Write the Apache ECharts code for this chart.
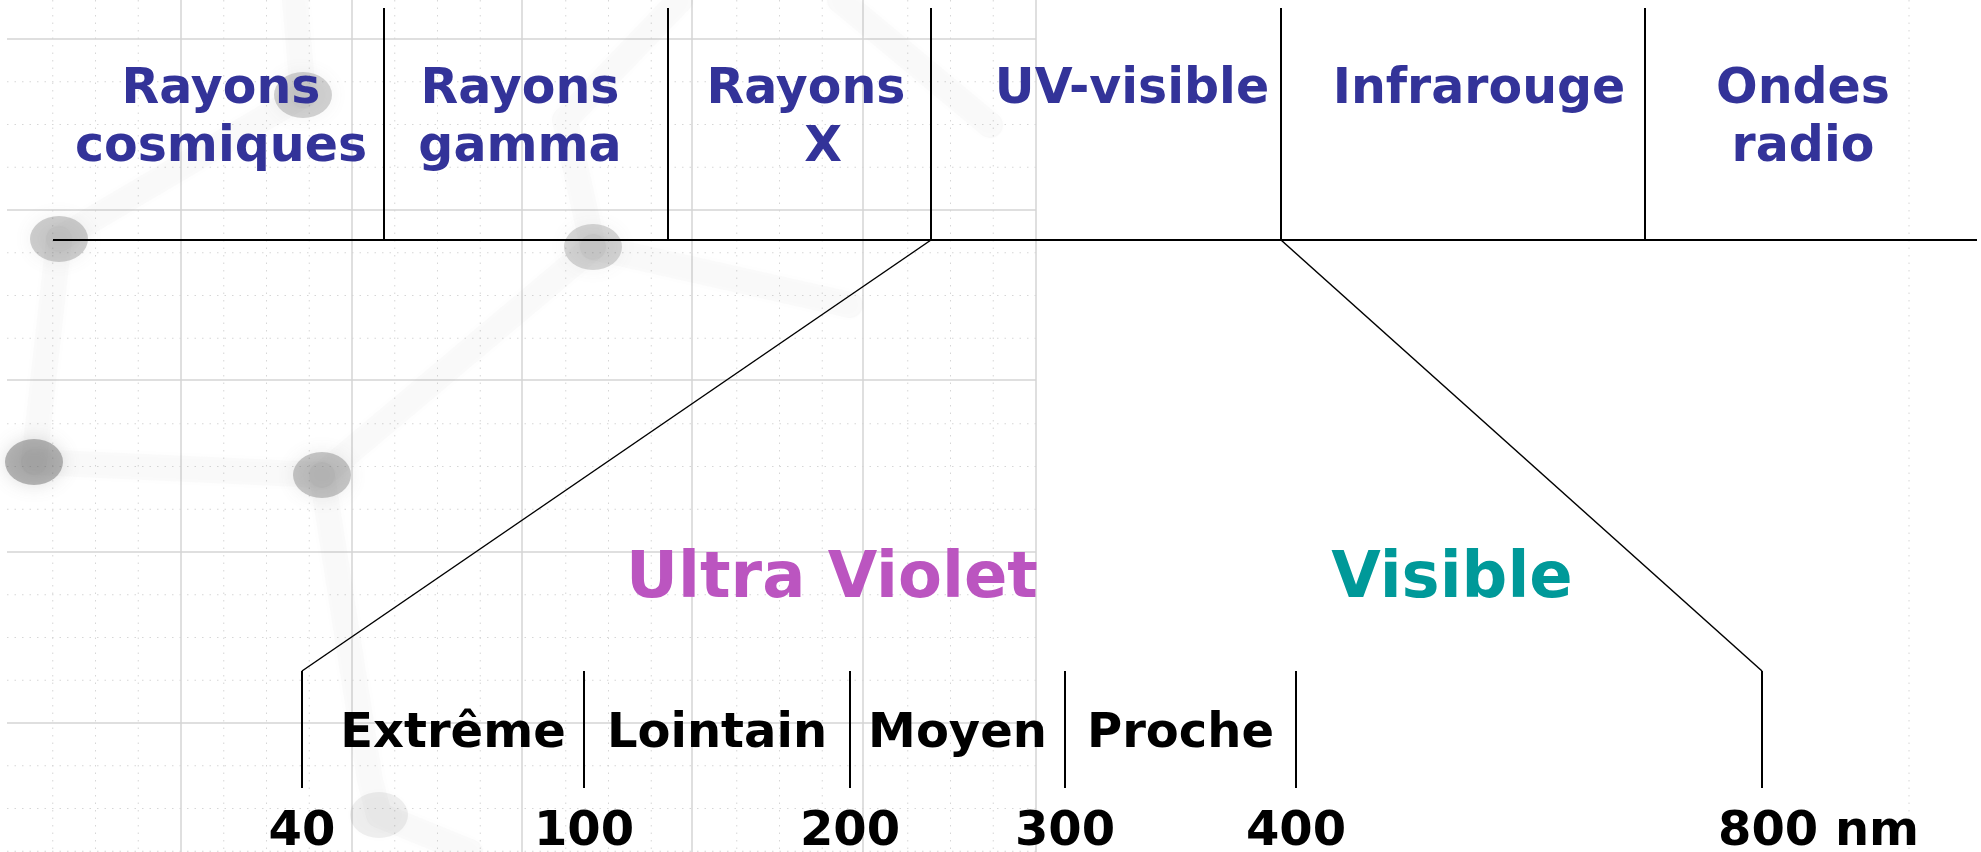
<!DOCTYPE html>
<html>
<head>
<meta charset="utf-8">
<script src="https://cdn.jsdelivr.net/npm/echarts@6/dist/echarts.min.js"></script>
<style>html,body{margin:0;padding:0;background:#fff}#c{width:1981px;height:852px}</style>
</head>
<body>
<div id="c"></div>
<script>
// ---- Spectrum bands (top row), schematic positions on a 0..1981 scale ----
const bandNames = ['Rayons\ncosmiques', 'Rayons\ngamma', 'Rayons\n  X', 'UV-visible', 'Infrarouge', 'Ondes\nradio'];
const bandLabelX = [221, 520, 806, 1132, 1479, 1803];
const bandEdges = [384, 668, 931, 1281, 1645];
const bandStart = 53, bandEnd = 1977;

// ---- Zoom into UV / visible (bottom row) ----
const wavelengths = [40, 100, 200, 300, 400, 800];
const wavelengthX = [302, 584, 850, 1065, 1296, 1762];
const tickLabels = ['40', '100', '200', '300', '400', '800 nm'];
const uvNames = ['Extrême', 'Lointain', 'Moyen', 'Proche'];
const regionNames = ['Ultra Violet', 'Visible'];
const regionX = [832, 1452];
const regionColors = ['#bb55c0', '#009999'];

// ---- faint background decoration ----
const gridMajorX = [181, 352, 522, 692, 863, 1036];
const gridMajorY = [39, 210, 380, 552, 723];
const moleculeAtoms = [[59, 239], [34, 462], [322, 475], [303, 95], [593, 247], [379, 815]];
const atomStrength = [0.30, 0.45, 0.35, 0.28, 0.25, 0.10];
const moleculeBonds = [
  [[59, 239], [34, 462]], [[34, 462], [322, 475]], [[322, 475], [593, 247]],
  [[59, 239], [303, 95]], [[303, 95], [295, 0]], [[593, 247], [565, 120], [680, 0]],
  [[593, 247], [850, 305]], [[322, 475], [370, 780], [379, 815], [470, 852]],
  [[840, 0], [990, 125]]
];

const yTop = 8, yAxisLine = 240, yFan = 671, yScaleBottom = 788;

// build line segments
const frame = [];
frame.push({coords: [[bandStart, yAxisLine], [bandEnd, yAxisLine]]});
bandEdges.forEach(x => frame.push({coords: [[x, yTop], [x, yAxisLine]]}));
wavelengthX.forEach(x => frame.push({coords: [[x, yFan], [x, yScaleBottom]]}));
const fan = [
  {coords: [[bandEdges[2], yAxisLine], [wavelengthX[0], yFan]]},
  {coords: [[bandEdges[3], yAxisLine], [wavelengthX[5], yFan]]}
];

const major = [], minor = [];
gridMajorX.forEach(x => major.push({coords: [[x, 0], [x, 852]]}));
gridMajorY.forEach(y => major.push({coords: [[7, y], [1036, y]]}));
const step = (gridMajorX[1] - gridMajorX[0]) / 4;
for (let x = gridMajorX[0] - 3 * step; x < 1040; x += step) {
  if (!gridMajorX.some(m => Math.abs(m - x) < 5)) minor.push({coords: [[x, 0], [x, 852]]});
}
const stepY = (gridMajorY[1] - gridMajorY[0]) / 4;
for (let y = gridMajorY[0]; y < 852; y += stepY) {
  if (!gridMajorY.some(m => Math.abs(m - y) < 5)) minor.push({coords: [[7, y], [1036, y]]});
}
minor.push({coords: [[1909, 0], [1909, 852]]});

const topLabels = bandNames.map((n, i) => [bandLabelX[i], 61, n]);
const uvLabels = uvNames.map((n, i) => [(wavelengthX[i] + wavelengthX[i + 1]) / 2 + (i === 0 ? 10 : 0), 735, n]);
const tickData = tickLabels.map((t, i) => ({value: [wavelengthX[i], 833, t],
  label: i === 5 ? {align: 'left', offset: [-44, 0]} : {}}));
const regionData = regionNames.map((n, i) => ({value: [regionX[i], 580, n], label: {color: regionColors[i]}}));

const font = '"DejaVu Sans", sans-serif';
const labelSeries = (data, label) => ({type: 'scatter', silent: true, z: 6, symbolSize: 0,
  itemStyle: {opacity: 1}, data: data,
  label: Object.assign({show: true, position: 'inside', formatter: p => p.value[2], fontFamily: font,
    fontWeight: 'bold', align: 'center', verticalAlign: 'middle', opacity: 1}, label)});

const chart = echarts.init(document.getElementById('c'), null, {renderer: 'canvas'});
chart.setOption({
  animation: false,
  backgroundColor: '#ffffff',
  grid: {left: 0, right: 0, top: 0, bottom: 0},
  xAxis: {type: 'value', min: 0, max: 1981, show: false},
  yAxis: {type: 'value', min: 0, max: 852, inverse: true, show: false},
  series: [
    {type: 'lines', coordinateSystem: 'cartesian2d', polyline: true, silent: true, z: 1,
     lineStyle: {color: '#d6d6d6', width: 1, type: [1.5, 6], opacity: 1}, data: minor},
    {type: 'lines', coordinateSystem: 'cartesian2d', polyline: true, silent: true, z: 1,
     lineStyle: {color: '#d4d4d4', width: 1.5, opacity: 1}, data: major},
    {type: 'lines', coordinateSystem: 'cartesian2d', polyline: true, silent: true, z: 2,
     lineStyle: {color: 'rgba(150,150,150,0.10)', width: 26, cap: 'round', join: 'round',
       shadowBlur: 14, shadowColor: 'rgba(150,150,150,0.25)'},
     data: moleculeBonds.map(b => ({coords: b}))},
    {type: 'scatter', silent: true, z: 3, symbol: 'circle', symbolSize: [58, 46],
     data: moleculeAtoms.map((a, i) => ({value: a, itemStyle: {
       color: 'rgba(100,100,100,' + atomStrength[i] + ')', opacity: 1,
       shadowBlur: 18, shadowColor: 'rgba(100,100,100,' + atomStrength[i] + ')'}}))},
    {type: 'lines', coordinateSystem: 'cartesian2d', polyline: true, silent: true, z: 5,
     lineStyle: {color: '#000', width: 2, opacity: 1}, data: frame},
    {type: 'lines', coordinateSystem: 'cartesian2d', polyline: true, silent: true, z: 5,
     lineStyle: {color: '#000', width: 1.5, opacity: 1}, data: fan},
    labelSeries(topLabels, {fontSize: 49, lineHeight: 58, color: '#333399', verticalAlign: 'top'}),
    labelSeries(uvLabels, {fontSize: 48, color: '#000'}),
    labelSeries(tickData, {fontSize: 48, color: '#000'}),
    labelSeries(regionData, {fontSize: 64})
  ]
});
</script>
</body>
</html>
